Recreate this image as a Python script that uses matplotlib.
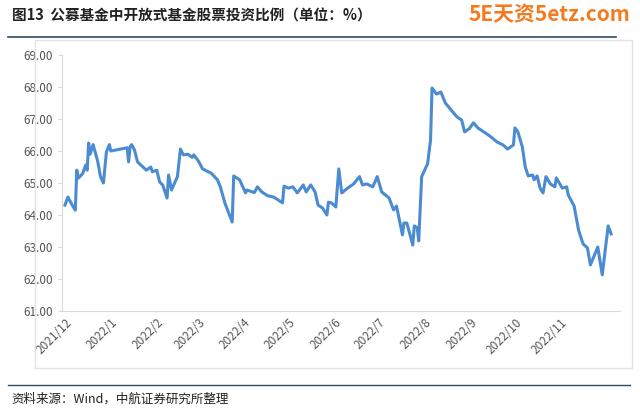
import matplotlib
matplotlib.use("Agg")
import matplotlib.pyplot as plt
from matplotlib.patches import Rectangle
from matplotlib.lines import Line2D
import numpy as np

plt.rcParams['font.family'] = ['Noto Sans CJK SC', 'DejaVu Sans']

days = [0,2,5,7,8,9,12,14,15,16,17,19,22,24,26,28,30,31,42,43,44,45,47,49,55,58,59,62,64,66,69,70,72,76,78,80,83,86,87,90,93,99,103,105,108,113,114,118,122,123,128,130,133,137,141,147,148,151,154,157,161,163,166,169,171,174,177,178,180,183,185,187,191,195,
        199,201,204,208,211,214,219,222,224,228,229,231,235,236,238,239,241,245,247,248,251,254,257,262,265,268,270,273,276,279,287,292,296,299,303,304,306,309,311,313,316,317,319,321,323,325,328,331,332,336,339,340,344,347,350,353,355,360,363,367,369]
values = [64.31,64.56,64.3,64.15,65.4,65.15,65.3,65.56,65.4,66.25,65.9,66.2,65.7,65.2,65.0,65.97,66.2,66.0,66.1,65.66,66.13,66.2,66.03,65.66,65.4,65.5,65.35,65.4,65.03,64.94,64.53,65.25,64.78,65.2,66.06,65.88,65.9,65.8,65.88,65.7,65.44,65.3,65.1,64.88,64.38,63.78,65.22,65.1,64.69,64.78,64.7,64.88,64.72,64.6,64.56,64.38,64.9,64.84,64.88,64.69,64.94,64.72,64.94,64.72,64.31,64.22,64.0,64.4,64.38,64.25,65.44,64.69,64.84,64.97,
          65.2,64.94,64.97,64.88,65.2,64.72,64.53,64.16,64.28,63.38,63.75,63.75,63.06,63.66,63.6,63.19,65.2,65.6,66.34,67.97,67.78,67.84,67.5,67.22,67.06,66.97,66.6,66.69,66.88,66.72,66.47,66.28,66.19,66.06,66.19,66.72,66.6,66.13,65.5,65.22,65.25,65.1,65.22,64.84,64.69,65.2,64.97,64.88,65.16,64.84,64.88,64.63,64.28,63.53,63.1,62.97,62.44,63.0,62.13,63.66,63.41]
tick_days = [0,31,62,90,121,151,182,212,243,274,304,335]
tick_labels = ['2021/12','2022/1','2022/2','2022/3','2022/4','2022/5','2022/6','2022/7','2022/8','2022/9','2022/10','2022/11']
yticks = [61,62,63,64,65,66,67,68,69]

fig = plt.figure(figsize=(6.4,4.12), dpi=100)
fig.patches.append(Rectangle((35/640, 1-368/412), 597/640, 328/412, transform=fig.transFigure,
                             fill=False, edgecolor='#e3e3e3', lw=1))
fig.add_artist(Line2D([0.012,0.962],[1-37/412]*2, color='#2f4a63', lw=1.2))
fig.add_artist(Line2D([0.012,0.985],[1-385/412]*2, color='#2f4a63', lw=1.0))
fig.text(0.018, 1-16/412, '图13  公募基金中开放式基金股票投资比例（单位：%）', fontsize=10.5,
         fontweight='bold', va='center', color='#222222')
fig.text(0.985, 1-15/412, '5E天资5etz.com', fontsize=15, fontweight='bold', color='#f47a20',
         ha='right', va='center')
fig.text(0.018, 1-399/412, '资料来源：Wind，中航证券研究所整理', fontsize=9, va='center', color='#222222')

ax = fig.add_axes([62/640, 1-311/412, 558/640, 256/412])
ax.plot(days, values, color='#4a8bd1', lw=2.2)
ax.set_ylim(61, 69)
ax.set_xlim(-2, 375)
ax.set_yticks(yticks)
ax.set_yticklabels([f'{v:.2f}' for v in yticks], fontsize=8.5, color='#555555')
ax.set_xticks(tick_days)
ax.set_xticklabels(tick_labels, rotation=45, ha='right', rotation_mode='anchor', fontsize=8.5, color='#555555')
for s in ['top','right']:
    ax.spines[s].set_visible(False)
ax.spines['left'].set_color('#d9d9d9')
ax.spines['bottom'].set_color('#d9d9d9')
ax.tick_params(axis='y', length=3, color='#d9d9d9')
ax.tick_params(axis='x', length=0)
fig.savefig('out.png', dpi=100)
